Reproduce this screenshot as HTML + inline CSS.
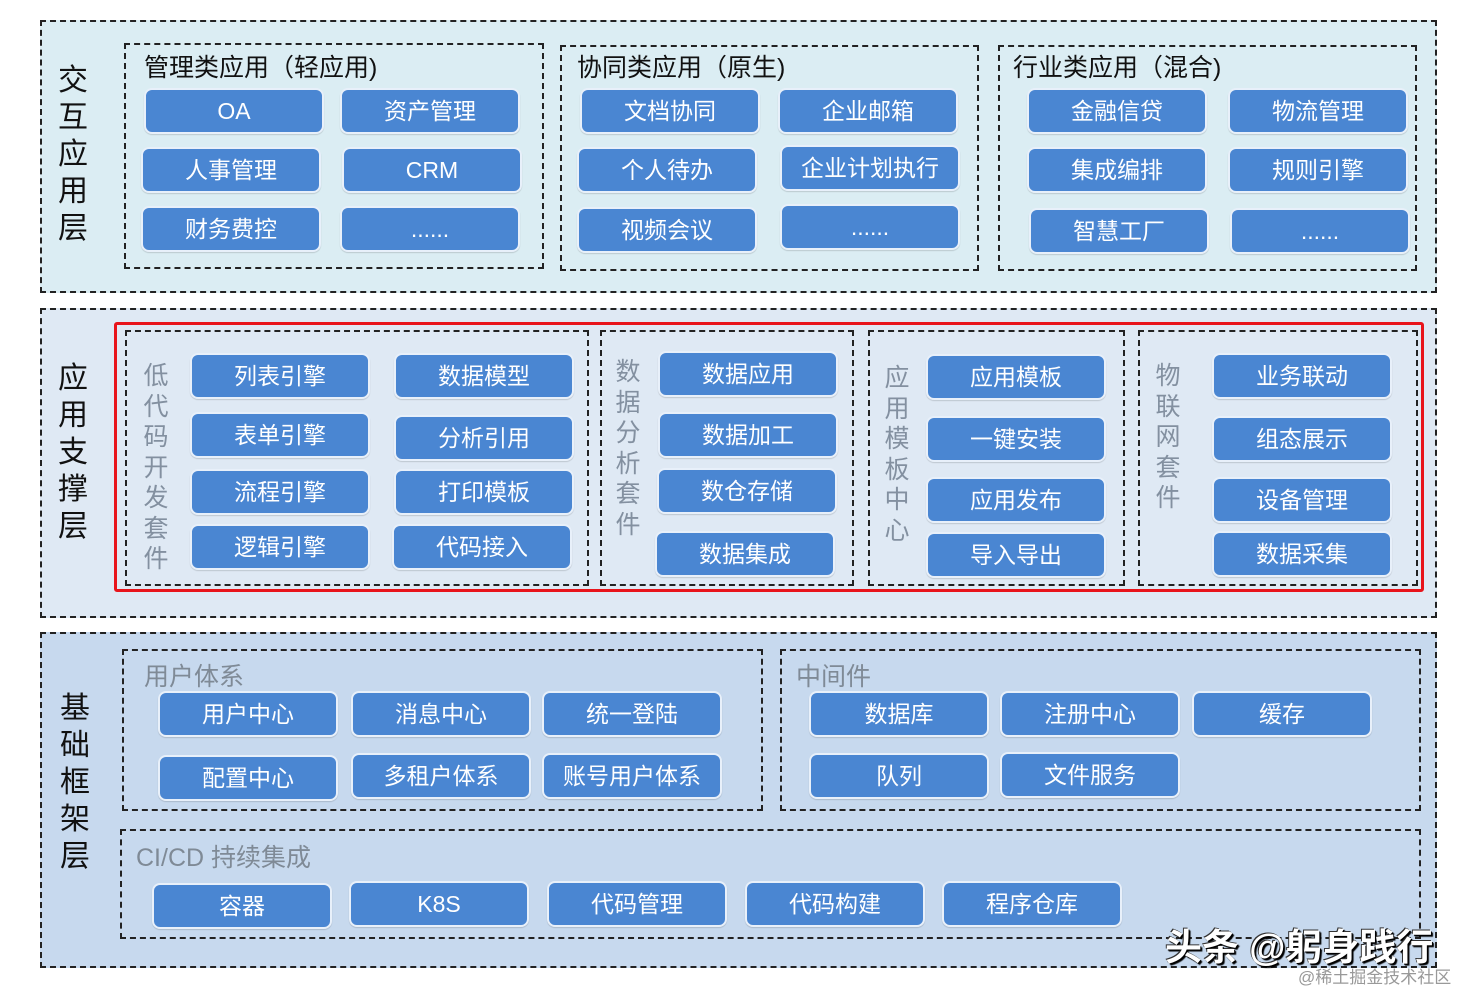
<!DOCTYPE html>
<html><head><meta charset="utf-8"><style>
body{margin:0;width:1464px;height:991px;background:#fff;position:relative;overflow:hidden;font-family:"Liberation Sans","Noto Sans CJK SC",sans-serif}
div{position:absolute;box-sizing:border-box}
.L{border:2px dashed #222}
.g{border:2px dashed #222}
.b{background:#4a86d2;border:2px solid #e8f0fa;border-radius:8px;color:#fff;font-size:23px;text-align:center;line-height:42px;height:46px;width:180px;box-shadow:0 1px 1px rgba(0,0,0,.15)}
.t{font-size:25px;color:#111;white-space:nowrap}
.tg{font-size:25px;color:#7f8a96;white-space:nowrap}
.v{font-size:30px;color:#111;width:36px;line-height:37px;text-align:center}
.vg{font-size:25px;color:#8390a0;width:30px;line-height:30.5px;text-align:center}
</style></head><body>
<!-- layer 1 -->
<div class="L" style="left:40px;top:20px;width:1397px;height:273px;background:#dbedf3"></div>
<div class="v" style="left:55px;top:62px">交互应用层</div>
<div class="g" style="left:124px;top:43px;width:420px;height:226px"></div>
<div class="t" style="left:144px;top:48px">管理类应用（轻应用)</div>
<div class="b" style="left:144px;top:88px">OA</div>
<div class="b" style="left:340px;top:88px">资产管理</div>
<div class="b" style="left:141px;top:147px">人事管理</div>
<div class="b" style="left:342px;top:147px">CRM</div>
<div class="b" style="left:141px;top:206px">财务费控</div>
<div class="b" style="left:340px;top:206px">......</div>
<div class="g" style="left:560px;top:45px;width:419px;height:226px"></div>
<div class="t" style="left:577px;top:48px">协同类应用（原生)</div>
<div class="b" style="left:580px;top:88px">文档协同</div>
<div class="b" style="left:778px;top:88px">企业邮箱</div>
<div class="b" style="left:577px;top:147px">个人待办</div>
<div class="b" style="left:780px;top:145px">企业计划执行</div>
<div class="b" style="left:577px;top:207px">视频会议</div>
<div class="b" style="left:780px;top:204px">......</div>
<div class="g" style="left:998px;top:45px;width:419px;height:226px"></div>
<div class="t" style="left:1013px;top:48px">行业类应用（混合)</div>
<div class="b" style="left:1027px;top:88px">金融信贷</div>
<div class="b" style="left:1228px;top:88px">物流管理</div>
<div class="b" style="left:1027px;top:147px">集成编排</div>
<div class="b" style="left:1228px;top:147px">规则引擎</div>
<div class="b" style="left:1029px;top:208px">智慧工厂</div>
<div class="b" style="left:1230px;top:208px">......</div>
<!-- layer 2 -->
<div class="L" style="left:40px;top:308px;width:1397px;height:310px;background:#dfe9f4"></div>
<div class="v" style="left:55px;top:360px">应用支撑层</div>
<div style="left:114px;top:322px;width:1310px;height:270px;border:3px solid #e8141b;border-radius:3px"></div>
<div class="g" style="left:125px;top:330px;width:464px;height:256px"></div>
<div class="g" style="left:600px;top:330px;width:254px;height:256px"></div>
<div class="g" style="left:868px;top:330px;width:257px;height:256px"></div>
<div class="g" style="left:1138px;top:330px;width:280px;height:256px"></div>
<div class="vg" style="left:141px;top:361px">低代码开发套件</div>
<div class="vg" style="left:613px;top:357px">数据分析套件</div>
<div class="vg" style="left:882px;top:363px">应用模板中心</div>
<div class="vg" style="left:1153px;top:361px">物联网套件</div>
<div class="b" style="left:190px;top:353px">列表引擎</div>
<div class="b" style="left:394px;top:353px">数据模型</div>
<div class="b" style="left:190px;top:412px">表单引擎</div>
<div class="b" style="left:394px;top:415px">分析引用</div>
<div class="b" style="left:190px;top:469px">流程引擎</div>
<div class="b" style="left:394px;top:469px">打印模板</div>
<div class="b" style="left:190px;top:524px">逻辑引擎</div>
<div class="b" style="left:392px;top:524px">代码接入</div>
<div class="b" style="left:658px;top:351px">数据应用</div>
<div class="b" style="left:658px;top:412px">数据加工</div>
<div class="b" style="left:657px;top:468px">数仓存储</div>
<div class="b" style="left:655px;top:531px">数据集成</div>
<div class="b" style="left:926px;top:354px">应用模板</div>
<div class="b" style="left:926px;top:416px">一键安装</div>
<div class="b" style="left:926px;top:477px">应用发布</div>
<div class="b" style="left:926px;top:532px">导入导出</div>
<div class="b" style="left:1212px;top:353px">业务联动</div>
<div class="b" style="left:1212px;top:416px">组态展示</div>
<div class="b" style="left:1212px;top:477px">设备管理</div>
<div class="b" style="left:1212px;top:531px">数据采集</div>
<!-- layer 3 -->
<div class="L" style="left:40px;top:632px;width:1397px;height:336px;background:#c7d9ee"></div>
<div class="v" style="left:57px;top:690px">基础框架层</div>
<div class="g" style="left:122px;top:649px;width:641px;height:162px"></div>
<div class="tg" style="left:144px;top:657px">用户体系</div>
<div class="b" style="left:158px;top:691px">用户中心</div>
<div class="b" style="left:351px;top:691px">消息中心</div>
<div class="b" style="left:542px;top:691px">统一登陆</div>
<div class="b" style="left:158px;top:755px">配置中心</div>
<div class="b" style="left:351px;top:753px">多租户体系</div>
<div class="b" style="left:542px;top:753px">账号用户体系</div>
<div class="g" style="left:780px;top:649px;width:641px;height:162px"></div>
<div class="tg" style="left:796px;top:657px">中间件</div>
<div class="b" style="left:809px;top:691px">数据库</div>
<div class="b" style="left:1000px;top:691px">注册中心</div>
<div class="b" style="left:1192px;top:691px">缓存</div>
<div class="b" style="left:809px;top:753px">队列</div>
<div class="b" style="left:1000px;top:752px">文件服务</div>
<div class="g" style="left:120px;top:829px;width:1301px;height:110px"></div>
<div class="tg" style="left:136px;top:838px">CI/CD 持续集成</div>
<div class="b" style="left:152px;top:883px">容器</div>
<div class="b" style="left:349px;top:881px">K8S</div>
<div class="b" style="left:547px;top:881px">代码管理</div>
<div class="b" style="left:745px;top:881px">代码构建</div>
<div class="b" style="left:942px;top:881px">程序仓库</div>
<div style="left:1165px;top:917px;font-size:37px;font-weight:bold;color:#fff;white-space:nowrap;text-shadow:1px 1px 0 #000,-1px -1px 0 #333,2px 2px 1px #000">头条 @躬身践行</div>
<div style="left:1298px;top:963px;font-size:17px;color:#999;white-space:nowrap">@稀土掘金技术社区</div>
</body></html>
